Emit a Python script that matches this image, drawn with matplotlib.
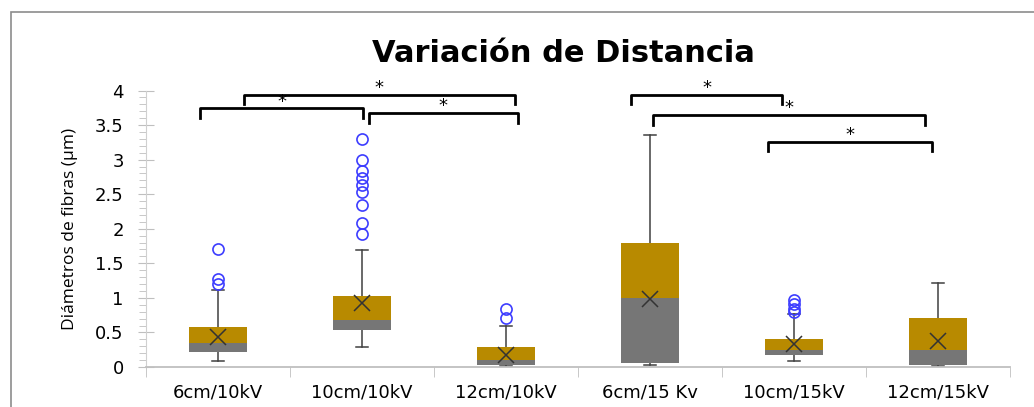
import numpy as np
import matplotlib.pyplot as plt
from matplotlib.patches import Rectangle

# datos (diametro de fibras, um)
grupos = ['6cm/10kV', '10cm/10kV', '12cm/10kV', '6cm/15 Kv', '10cm/15kV', '12cm/15kV']
bigote_inf = [0.09, 0.29, 0.01, 0.034, 0.087, 0.01]
q1 = [0.21, 0.54, 0.034, 0.058, 0.174, 0.034]
mediana = [0.34, 0.68, 0.106, 0.995, 0.25, 0.24]
q3 = [0.58, 1.03, 0.285, 1.80, 0.41, 0.71]
bigote_sup = [1.11, 1.69, 0.59, 3.35, 0.77, 1.22]
media = [0.44, 0.92, 0.17, 0.985, 0.33, 0.37]
atipicos = [
    [1.70, 1.27, 1.20],
    [3.30, 2.99, 2.84, 2.74, 2.64, 2.53, 2.34, 2.09, 1.93],
    [0.84, 0.715],
    [],
    [0.97, 0.91, 0.845, 0.80],
    [],
]

# pares con diferencia significativa (*)
pares_sig = [(0, 1), (0, 2), (1, 2), (3, 4), (3, 5), (4, 5)]
corchete_x = [(-0.125, 1.007), (0.18, 2.06), (1.05, 2.08), (2.87, 3.92), (3.02, 4.91), (3.82, 4.96)]
corchete_y = [3.74, 3.94, 3.67, 3.94, 3.64, 3.26]

ORO = '#B88A00'
GRIS = '#767676'
fuente = ['Liberation Sans Narrow', 'DejaVu Sans']

fig = plt.figure(figsize=(10.34, 4.07), dpi=100)
ax = fig.add_axes([146/1034, 1-367/407, (1010-146)/1034, (367-90.5)/407])

x = np.arange(len(grupos))
ancho = 0.4
for i in x:
    ax.plot([i, i], [q3[i], bigote_sup[i]], color='#404040', lw=1.1, zorder=1)
    ax.plot([i, i], [bigote_inf[i], q1[i]], color='#404040', lw=1.1, zorder=1)
    ax.plot([i-0.04, i+0.04], [bigote_sup[i]]*2, color='#404040', lw=1.1, zorder=1)
    ax.plot([i-0.04, i+0.04], [bigote_inf[i]]*2, color='#404040', lw=1.1, zorder=1)
ax.bar(x, np.array(mediana)-np.array(q1), ancho, bottom=q1, color=GRIS, zorder=2)
ax.bar(x, np.array(q3)-np.array(mediana), ancho, bottom=mediana, color=ORO, zorder=2)
ax.plot(x, media, 'x', color='#333333', ms=11, mew=1.1, zorder=3)
for i, vals in enumerate(atipicos):
    ax.plot([i]*len(vals), vals, 'o', mfc='none', mec='#3D3DFF', ms=8, mew=1.2, zorder=3)

# corchetes de significancia
for (a, b), (xa, xb), yt in zip(pares_sig, corchete_x, corchete_y):
    ax.plot([xa, xa, xb, xb], [yt-0.14, yt, yt, yt-0.14], color='black', lw=2,
            solid_joinstyle='round', clip_on=False, zorder=4)
    ax.text((xa+xb)/2, yt+0.1, '*', ha='center', va='center', fontsize=13,
            family='DejaVu Sans', clip_on=False)

ax.set_xlim(-0.5, 5.5)
ax.set_ylim(0, 4)
ax.set_yticks(np.arange(0, 4.01, 0.5))
ax.set_yticklabels(['0', '0.5', '1', '1.5', '2', '2.5', '3', '3.5', '4'], family=fuente, fontsize=13)
ax.set_yticks(np.arange(0, 4.01, 0.1), minor=True)
ax.set_xticks(x)
ax.set_xticklabels(grupos, family=fuente, fontsize=13)
ax.set_xticks(np.arange(-0.5, 5.6, 1), minor=True)
ax.tick_params(axis='x', which='major', length=0, pad=12)
ax.tick_params(axis='x', which='minor', length=7, color='#BFBFBF', direction='out')
ax.tick_params(axis='y', which='major', length=12, color='#BFBFBF', direction='inout', pad=10)
ax.tick_params(axis='y', which='minor', length=5, color='#BFBFBF', direction='out')
for s in ['top', 'right']:
    ax.spines[s].set_visible(False)
ax.spines['left'].set_color('#D0D0D0')
ax.spines['bottom'].set_color('#BFBFBF')
ax.spines['bottom'].set_linewidth(1.3)

ax.set_ylabel('Diámetros de fibras (µm)', family=['Open Sans', 'DejaVu Sans'], fontsize=12.5, labelpad=12)
fig.text(563/1034, 1-53/407, 'Variación de Distancia', ha='center', va='center',
         fontsize=22, fontweight='bold', family=fuente)

# marco del grafico
fig.patches.append(Rectangle((11/1034, -0.1), 2, 1.1-12/407, transform=fig.transFigure,
                             fill=False, edgecolor='#8C8C8C', lw=1.2))

fig.savefig('out.png', dpi=100)
